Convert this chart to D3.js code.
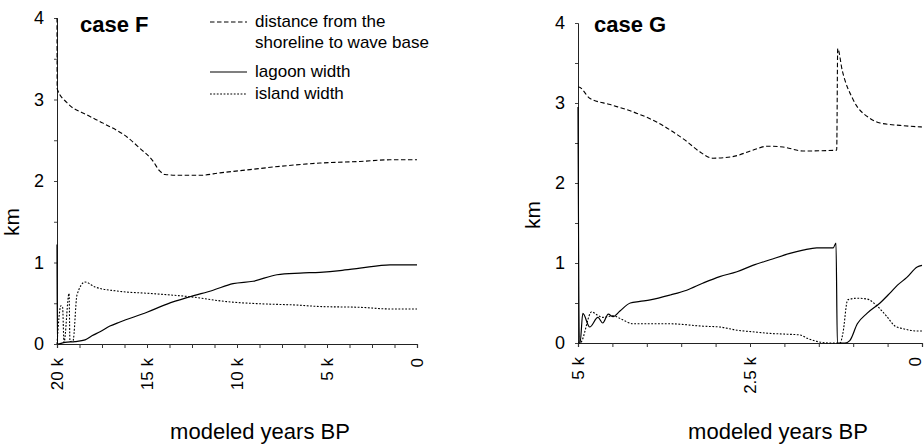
<!DOCTYPE html>
<html>
<head>
<meta charset="utf-8">
<script src="https://cdn.jsdelivr.net/npm/d3@7"></script>
<style>
  html, body { margin: 0; padding: 0; background: #fff; }
  svg { display: block; font-family: "Liberation Sans", Arial, sans-serif; }
</style>
</head>
<body>
<svg id="chart" width="924" height="444"></svg>
<script>
// ---------- DATA (years in thousands BP, values in km) ----------
// case F
const fDistanceYears = [20, 19.99, 19.44, 18.33, 17.44, 16.11, 15.39, 14.72, 14.28, 14.0, 13.17, 12.06, 10.94, 9.28, 7.61, 5.39, 3.17, 1.5, 0];
const fDistanceKm    = [4.0, 3.13, 2.96, 2.81, 2.71, 2.54, 2.40, 2.26, 2.12, 2.08, 2.07, 2.07, 2.10, 2.14, 2.18, 2.22, 2.24, 2.26, 2.26];

const fLagoonYears = [20, 19.98, 19.56, 19.0, 18.44, 18.06, 17.61, 17.06, 16.5, 15.0, 13.89, 12.61, 11.33, 10.22, 9.11, 7.78, 6.5, 5.39, 4.28, 3.17, 1.5, 0];
const fLagoonKm    = [1.22, 0.0, 0.02, 0.03, 0.05, 0.10, 0.15, 0.22, 0.27, 0.39, 0.49, 0.58, 0.66, 0.74, 0.77, 0.85, 0.87, 0.88, 0.90, 0.93, 0.97, 0.97];

const fIslandYears = [20, 19.78, 19.69, 19.61, 19.33, 19.28, 19.11, 18.89, 18.44, 17.89, 16.67, 14.83, 12.61, 10.56, 8.33, 6.89, 5.39, 3.17, 1.5, 0];
const fIslandKm    = [0.0, 0.47, 0.45, 0.02, 0.62, 0.03, 0.04, 0.60, 0.76, 0.70, 0.65, 0.62, 0.58, 0.52, 0.49, 0.48, 0.46, 0.45, 0.43, 0.43];

// case G
const gDistanceYears = [5.0, 4.99, 4.83, 4.53, 4.14, 3.85, 3.62, 3.42, 3.23, 3.04, 2.75, 2.46, 2.25, 2.02, 1.73, 1.24, 1.225, 1.16, 1.0, 0.76, 0.61, 0.32, 0];
const gDistanceKm    = [3.2, 3.2, 3.06, 2.98, 2.87, 2.76, 2.64, 2.52, 2.39, 2.31, 2.33, 2.41, 2.46, 2.45, 2.40, 2.41, 3.68, 3.41, 3.04, 2.81, 2.75, 2.72, 2.70];

const gLagoonYears = [5.0, 4.98, 4.97, 4.93, 4.83, 4.71, 4.64, 4.56, 4.49, 4.39, 4.24, 4.10, 3.95, 3.66, 3.42, 3.18, 2.94, 2.69, 2.46, 2.21, 1.92, 1.73, 1.53, 1.29, 1.25, 1.23, 1.12, 1.05, 0.94, 0.80, 0.61, 0.47, 0.36, 0.22, 0.07, 0];
const gLagoonKm    = [2.95, 0.0, 0.0, 0.37, 0.20, 0.32, 0.25, 0.36, 0.33, 0.40, 0.50, 0.52, 0.54, 0.60, 0.66, 0.75, 0.83, 0.89, 0.97, 1.04, 1.12, 1.16, 1.19, 1.19, 1.25, 0.0, 0.0, 0.03, 0.24, 0.37, 0.50, 0.62, 0.72, 0.82, 0.95, 0.97];

const gIslandYears = [5.0, 4.97, 4.80, 4.72, 4.64, 4.49, 4.35, 4.20, 3.66, 3.18, 2.94, 2.69, 2.46, 2.21, 1.96, 1.77, 1.67, 1.53, 1.34, 1.19, 1.15, 1.08, 0.94, 0.80, 0.65, 0.51, 0.39, 0.28, 0.07, 0];
const gIslandKm    = [0.0, 0.0, 0.39, 0.35, 0.32, 0.34, 0.29, 0.24, 0.24, 0.21, 0.20, 0.16, 0.14, 0.12, 0.11, 0.10, 0.06, 0.02, 0.0, 0.0, 0.12, 0.54, 0.56, 0.55, 0.46, 0.33, 0.21, 0.18, 0.15, 0.15];

// tick labels
const yTickValues = [0, 0.5, 1, 1.5, 2, 2.5, 3, 3.5, 4];
const fXTickLabels = [[20, "20 k"], [15, "15 k"], [10, "10 k"], [5, "5 k"], [0, "0"]];
const gXTickLabels = [[5, "5 k"], [2.5, "2.5 k"], [0, "0"]];
const fXMinorStep = 1.25;
const gXMinorStep = 0.5;

const legendLabels = [["distance from the", "shoreline to wave base"], ["lagoon width"], ["island width"]];

// ---------- DRAWING ----------
const svg = d3.select("#chart");
const W = 924;
const styles = {
  distance: { dash: "4.5,2.5", width: 1.1 },
  lagoon:   { dash: null,      width: 1.2 },
  island:   { dash: "1.8,1.6", width: 1.1 }
};

function zip(xs, ys) { return xs.map((x, i) => ({ t: x, v: ys[i] })); }

function panel(opts) {
  const x = d3.scaleLinear().domain(opts.xDomain).range(opts.xRange);
  const y = d3.scaleLinear().domain([0, 4]).range(opts.yRange);
  const g = svg.append("g");

  // y axis
  const yAxis = d3.axisLeft(y).tickValues(yTickValues).tickSize(3).tickPadding(10)
    .tickFormat(d => Number.isInteger(d) ? String(d) : "");
  const ya = g.append("g").attr("transform", `translate(${opts.xRange[0]},0)`).call(yAxis);
  ya.select(".domain").attr("stroke", "#222").attr("stroke-width", 1);
  ya.selectAll(".tick line").attr("stroke", "#444");
  ya.selectAll("text").attr("font-size", 18).attr("fill", "#000")
    .attr("font-family", "Liberation Sans, Arial, sans-serif");

  // x axis
  const minor = d3.range(opts.xDomain[1], opts.xDomain[0] + 1e-9, opts.minorStep);
  const xAxis = d3.axisBottom(x).tickValues(minor).tickSize(4).tickFormat("");
  const xa = g.append("g").attr("transform", `translate(0,${opts.yRange[0]})`).call(xAxis);
  xa.select(".domain").attr("stroke", "#222").attr("stroke-width", 1.2);
  xa.selectAll(".tick line").attr("stroke", "#333");

  g.selectAll("text.xlab").data(opts.xLabels).enter().append("text")
    .attr("class", "xlab")
    .attr("transform", d => `translate(${Math.min(x(d[0]), W - 9)},${opts.yRange[0] + 14}) rotate(-90)`)
    .attr("text-anchor", "end").attr("dy", "0.35em")
    .attr("font-size", 17).attr("fill", "#000")
    .text(d => d[1]);

  // axis titles
  g.append("text")
    .attr("transform", `translate(${opts.kmX},${opts.kmY}) rotate(-90)`)
    .attr("text-anchor", "middle").attr("font-size", 21).attr("fill", "#000")
    .text("km");
  g.append("text")
    .attr("x", opts.titleX).attr("y", 439)
    .attr("text-anchor", "middle").attr("font-size", 22).attr("fill", "#000")
    .text("modeled years BP");

  // case label
  g.append("text")
    .attr("x", opts.caseX).attr("y", opts.caseY)
    .attr("font-size", 22).attr("font-weight", "bold").attr("fill", "#000")
    .text(opts.caseLabel);

  const line = d3.line().x(d => x(d.t)).y(d => y(d.v)).curve(d3.curveMonotoneX);
  opts.series.forEach(s => {
    const st = styles[s.key];
    g.append("path").datum(zip(s.years, s.values))
      .attr("d", line).attr("fill", "none").attr("stroke", "#000")
      .attr("stroke-width", st.width)
      .attr("stroke-dasharray", st.dash);
  });
}

panel({
  xDomain: [20, 0], xRange: [57, 417], yRange: [344, 18], minorStep: fXMinorStep,
  xLabels: fXTickLabels, kmX: 19, kmY: 222, titleX: 260, caseX: 80, caseY: 32, caseLabel: "case F",
  series: [
    { key: "distance", years: fDistanceYears, values: fDistanceKm },
    { key: "lagoon", years: fLagoonYears, values: fLagoonKm },
    { key: "island", years: fIslandYears, values: fIslandKm }
  ]
});
panel({
  xDomain: [5, 0], xRange: [578, 922], yRange: [343, 23], minorStep: gXMinorStep,
  xLabels: gXTickLabels, kmX: 540, kmY: 215, titleX: 778, caseX: 594, caseY: 32, caseLabel: "case G",
  series: [
    { key: "distance", years: gDistanceYears, values: gDistanceKm },
    { key: "lagoon", years: gLagoonYears, values: gLagoonKm },
    { key: "island", years: gIslandYears, values: gIslandKm }
  ]
});

// legend
const legend = svg.append("g");
const legendKeys = ["distance", "lagoon", "island"];
const legendRowY = [27, 77, 99];
legendKeys.forEach((k, i) => {
  const st = styles[k];
  legend.append("line")
    .attr("x1", 210).attr("x2", 247)
    .attr("y1", legendRowY[i] - 5).attr("y2", legendRowY[i] - 5)
    .attr("stroke", "#000").attr("stroke-width", st.width)
    .attr("stroke-dasharray", st.dash);
  legendLabels[i].forEach((txt, j) => {
    legend.append("text")
      .attr("x", 255).attr("y", legendRowY[i] + j * 21)
      .attr("font-size", 17).attr("fill", "#000")
      .text(txt);
  });
});
</script>
</body>
</html>
